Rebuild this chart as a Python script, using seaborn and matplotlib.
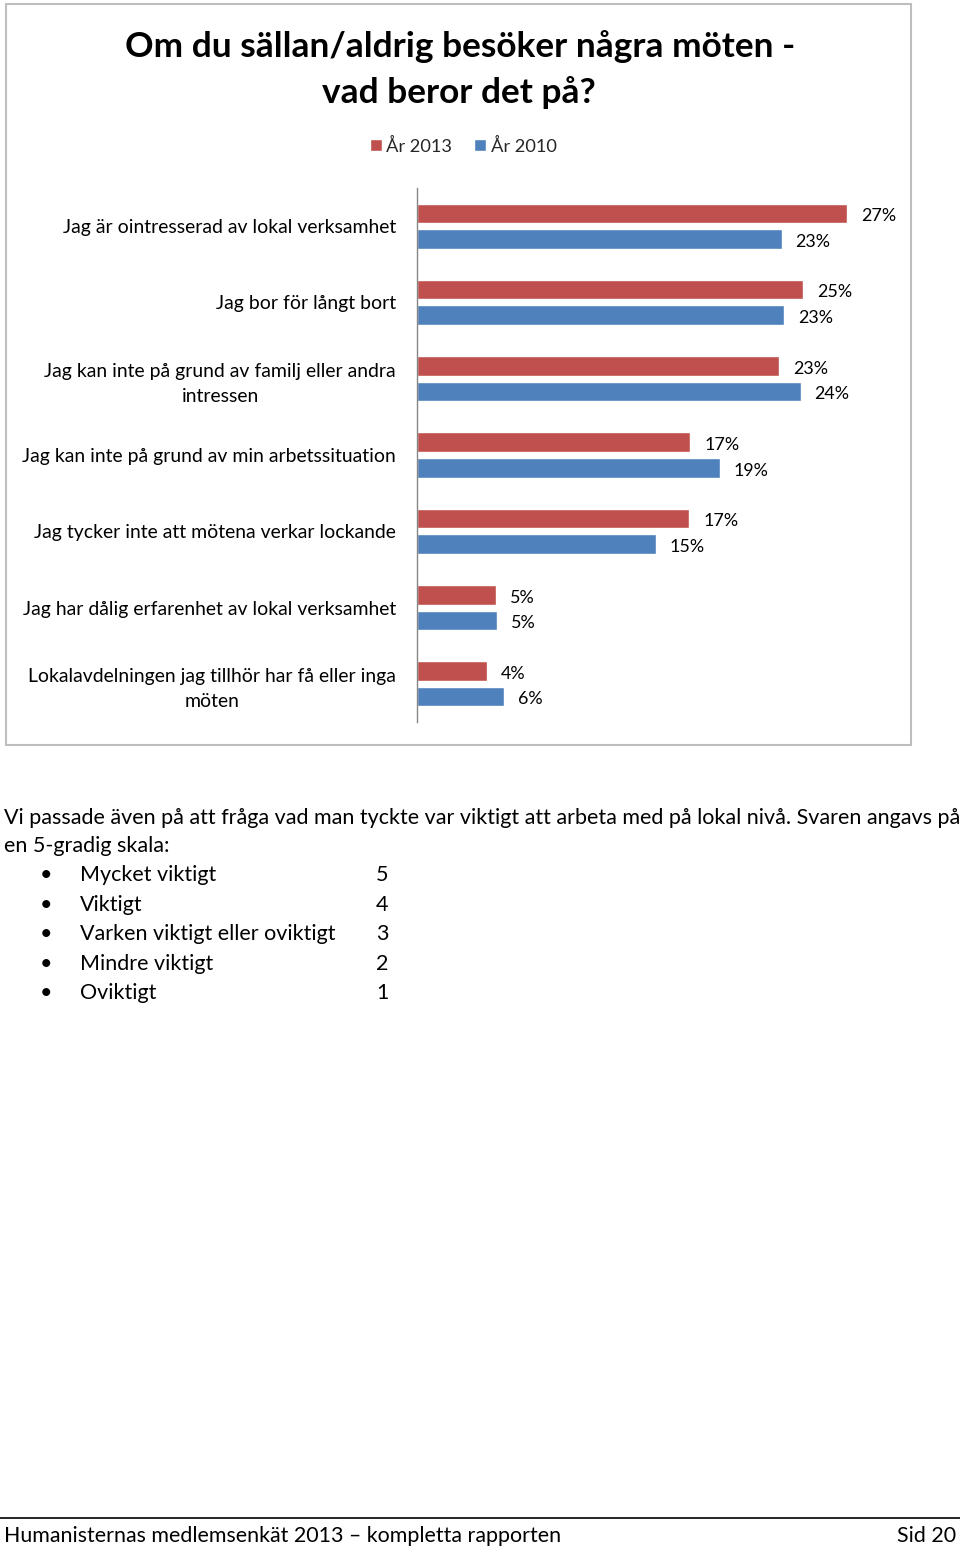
import numpy as np
import pandas as pd
import matplotlib
matplotlib.use("Agg")
import matplotlib.pyplot as plt
import seaborn as sns
from matplotlib.patches import Rectangle
from matplotlib.lines import Line2D

# ---------------- data ----------------
categories = [
    "Jag är ointresserad av lokal verksamhet",
    "Jag bor för långt bort",
    "Jag kan inte på grund av familj eller andra\nintressen",
    "Jag kan inte på grund av min arbetssituation",
    "Jag tycker inte att mötena verkar lockande",
    "Jag har dålig erfarenhet av lokal verksamhet",
    "Lokalavdelningen jag tillhör har få eller inga\nmöten",
]
years = ["År 2013", "År 2010"]
values_2013 = [27.44, 24.66, 23.13, 17.45, 17.39, 5.06, 4.48]
values_2010 = [23.28, 23.45, 24.49, 19.32, 15.26, 5.14, 5.55]
colors = ["#C0504D", "#4F81BD"]

title_lines = ["Om du sällan/aldrig besöker några möten -", "vad beror det på?"]
intro_lines = [
    "Vi passade även på att fråga vad man tyckte var viktigt att arbeta med på lokal nivå. Svaren angavs på",
    "en 5-gradig skala:",
]
scale_labels = ["Mycket viktigt", "Viktigt", "Varken viktigt eller oviktigt", "Mindre viktigt", "Oviktigt"]
scale_values = ["5", "4", "3", "2", "1"]
footer_left = "Humanisternas medlemsenkät 2013 – kompletta rapporten"
footer_right = "Sid 20"

# ---------------- setup ----------------
sns.set_theme(style="white")
plt.rcParams["font.family"] = ["Lato", "DejaVu Sans"]

W, H = 960, 1549
fig = plt.figure(figsize=(W / 100, H / 100), dpi=100)
fig.patch.set_facecolor("white")
renderer = fig.canvas.get_renderer()


def fx(x):
    return x / W


def fy(y):
    return 1 - y / H


def fit(text, target, weight="normal"):
    t = fig.text(0, 0, text, fontsize=10, fontweight=weight)
    w = t.get_window_extent(renderer=renderer).width
    t.remove()
    return 10 * target / w


# ---------------- chart ----------------
ax = fig.add_axes([fx(416.7), fy(722), (887 - 416.7) / W, (722 - 188) / H])
df = pd.DataFrame({
    "cat": categories * 2,
    "year": [years[0]] * len(categories) + [years[1]] * len(categories),
    "value": values_2013 + values_2010,
})
sns.barplot(data=df, y="cat", x="value", hue="year", hue_order=years,
            palette=colors, orient="h", width=0.67, gap=0.23,
            errorbar=None, saturation=1, ax=ax, legend=True)

ax.set_xlim(0, 30)
ax.set_xlabel("")
ax.set_ylabel("")
ax.set_xticks([])
for s in ["top", "right", "bottom"]:
    ax.spines[s].set_visible(False)
ax.spines["left"].set_color("#868686")
ax.spines["left"].set_linewidth(1.0)
ax.set_facecolor("none")

tick_fs = fit("Jag är ointresserad av lokal verksamhet", 334)
ax.tick_params(axis="y", length=0, pad=20.7 * 0.72, labelsize=tick_fs, labelcolor="black")
for lab in ax.get_yticklabels():
    lab.set_multialignment("center")
    lab.set_linespacing(1.55)

lab_fs = fit("27%", 35)
for cont, vals in zip(ax.containers, [values_2013, values_2010]):
    texts = ax.bar_label(cont, labels=[f"{v:.0f}%" for v in vals], padding=10,
                         fontsize=lab_fs, color="black")
    for t in texts:
        x0, y0 = t.xyann
        t.xyann = (x0, y0 - 2.0)

leg_fs = fit("År 2013", 66)
sns.move_legend(ax, "center", bbox_to_anchor=(fx(463), fy(146)),
                bbox_transform=fig.transFigure, ncol=2, title=None, frameon=False,
                fontsize=leg_fs, handlelength=8.6 / leg_fs, handleheight=8.6 / leg_fs,
                handletextpad=0.25, columnspacing=1.2)

# title
title_fs = fit(title_lines[0], 670, weight="bold")
fig.text(fx(460), fy(57), title_lines[0], ha="center", va="baseline",
         fontsize=title_fs, fontweight="bold", color="black")
fig.text(fx(459), fy(103), title_lines[1], ha="center", va="baseline",
         fontsize=title_fs, fontweight="bold", color="black")

# chart border
fig.add_artist(Rectangle((fx(6), fy(745)), (911 - 6) / W, (745 - 4) / H,
                         transform=fig.transFigure, fill=False,
                         edgecolor="#BEBEBE", lw=1.5))

# ---------------- body text ----------------
body_fs = fit(intro_lines[0], 951)
fig.text(fx(4), fy(824), intro_lines[0], ha="left", va="baseline", fontsize=body_fs, color="black")
fig.text(fx(4), fy(852), intro_lines[1], ha="left", va="baseline", fontsize=body_fs, color="black")

row_y = [881, 911, 940, 970, 999]
for yb, lab, val in zip(row_y, scale_labels, scale_values):
    fig.text(fx(46), fy(yb), "•", ha="center", va="baseline", fontsize=body_fs, color="black")
    fig.text(fx(80), fy(yb), lab, ha="left", va="baseline", fontsize=body_fs, color="black")
    fig.text(fx(376), fy(yb), val, ha="left", va="baseline", fontsize=body_fs, color="black")

# footer
fig.add_artist(Line2D([0, 1], [fy(1518), fy(1518)], transform=fig.transFigure,
                      color="black", lw=1.2))
foot_fs = fit(footer_left, 556)
fig.text(fx(4), fy(1542), footer_left, ha="left", va="baseline", fontsize=foot_fs, color="black")
fig.text(fx(956), fy(1542), footer_right, ha="right", va="baseline", fontsize=foot_fs, color="black")

fig.savefig("out.png", dpi=100, facecolor="white")
